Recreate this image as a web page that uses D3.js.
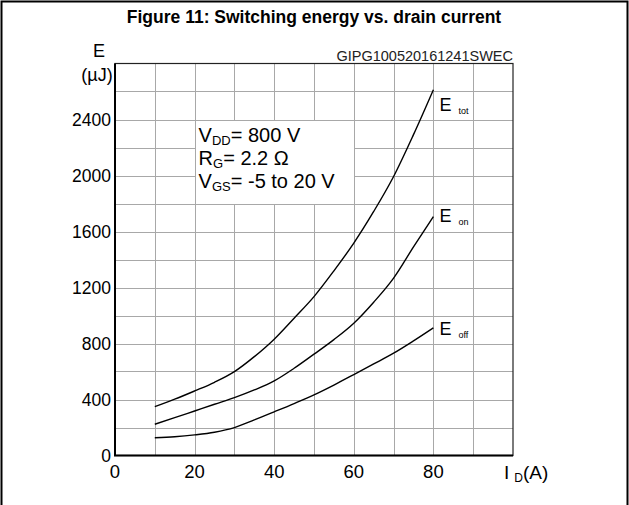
<!DOCTYPE html>
<html>
<head>
<meta charset="utf-8">
<script src="https://cdn.jsdelivr.net/npm/d3@7"></script>
<style>
  body { margin: 0; background: #fff; }
  svg { display: block; font-family: "Liberation Sans", Arial, sans-serif; }
</style>
</head>
<body>
<script>
// data
var current = [10, 15, 20, 25, 30, 35, 40, 45, 50, 55, 60, 65, 70, 75, 80];
var eTot = [349, 402, 461, 523, 599, 706, 831, 981, 1135, 1319, 1517, 1743, 1993, 2292, 2613];
var eOn  = [223, 270, 318, 366, 413, 468, 533, 623, 724, 828, 945, 1095, 1267, 1490, 1707];
var eOff = [127, 134, 147, 166, 199, 254, 312, 371, 433, 503, 578, 654, 731, 819, 912];
var xTicks = [0, 20, 40, 60, 80];
var yTicks = [0, 400, 800, 1200, 1600, 2000, 2400];
var seriesNames = ["tot", "on", "off"];

var width = 629,
    height = 505,
    plotLeft = 115, plotRight = 513, plotTop = 63.5, plotBottom = 455.5;

var x = d3.scaleLinear().domain([0, 100]).range([plotLeft, plotRight]),
    y = d3.scaleLinear().domain([0, 2800]).range([plotBottom, plotTop]);

var svg = d3.select("body").append("svg")
    .attr("width", width)
    .attr("height", height);

// outer frame
svg.append("path")
    .attr("d", "M1.5," + height + "V1.5H627.5V" + height)
    .attr("fill", "none")
    .attr("stroke", "#000")
    .attr("stroke-width", 2);

svg.append("text")
    .attr("x", 314).attr("y", 23)
    .attr("text-anchor", "middle")
    .attr("font-weight", "bold")
    .attr("font-size", 17.5)
    .text("Figure 11: Switching energy vs. drain current");

// grid
var grid = svg.append("g").attr("stroke", "#a8a8a8").attr("stroke-width", 1);
grid.selectAll("line.v")
    .data(d3.range(10, 100, 10))
    .enter().append("line")
    .attr("x1", function(d) { return Math.round(x(d)) + 0.5; })
    .attr("x2", function(d) { return Math.round(x(d)) + 0.5; })
    .attr("y1", plotTop).attr("y2", plotBottom);
grid.selectAll("line.h")
    .data(d3.range(200, 2800, 200))
    .enter().append("line")
    .attr("y1", function(d) { return Math.round(y(d)) + 0.5; })
    .attr("y2", function(d) { return Math.round(y(d)) + 0.5; })
    .attr("x1", plotLeft).attr("x2", plotRight);

// conditions box
svg.append("rect")
    .attr("x", Math.round(x(20)) + 0.5)
    .attr("y", Math.round(y(2400)) + 0.5)
    .attr("width", Math.round(x(60)) - Math.round(x(20)))
    .attr("height", Math.round(y(1800)) - Math.round(y(2400)))
    .attr("fill", "#fff")
    .attr("stroke", "#a8a8a8");

var cond = [["V", "DD", "= 800 V"], ["R", "G", "= 2.2 \u03A9"], ["V", "GS", "= -5 to 20 V"]];
cond.forEach(function(c, i) {
    var t = svg.append("text")
        .attr("x", x(20) + 4)
        .attr("y", 142 + i * 23)
        .attr("font-size", 20);
    t.append("tspan").text(c[0]);
    t.append("tspan").attr("font-size", 13).attr("dy", 3).text(c[1]);
    t.append("tspan").attr("dy", -3).text(c[2]);
});

// plot border
svg.append("rect")
    .attr("x", plotLeft).attr("y", plotTop)
    .attr("width", plotRight - plotLeft).attr("height", plotBottom - plotTop)
    .attr("fill", "none")
    .attr("stroke", "#222")
    .attr("stroke-width", 1.2);
svg.append("path")
    .attr("d", "M" + plotLeft + "," + plotTop + "V" + plotBottom + "H" + plotRight)
    .attr("fill", "none")
    .attr("stroke", "#000")
    .attr("stroke-width", 2);

// curves
var line = d3.line()
    .x(function(d) { return x(d[0]); })
    .y(function(d) { return y(d[1]); })
    .curve(d3.curveMonotoneX);

var labelShift = [21, 5, 7];
[eTot, eOn, eOff].forEach(function(s, i) {
    svg.append("path")
        .datum(current.map(function(c, j) { return [c, s[j]]; }))
        .attr("fill", "none")
        .attr("stroke", "#000")
        .attr("stroke-width", 1.4)
        .attr("d", line);

    var last = s[s.length - 1];
    var lbl = svg.append("text")
        .attr("x", x(80) + 6)
        .attr("y", y(last) + labelShift[i])
        .attr("font-size", 18);
    lbl.append("tspan").text("E");
    lbl.append("tspan").attr("font-size", 9).attr("dx", 7).attr("dy", 3).text(seriesNames[i]);
});

// tick labels
svg.selectAll("text.ytick")
    .data(yTicks)
    .enter().append("text")
    .attr("class", "ytick")
    .attr("x", 111)
    .attr("y", function(d) { return y(d) + 6; })
    .attr("text-anchor", "end")
    .attr("font-size", 17.5)
    .text(function(d) { return d; });

svg.selectAll("text.xtick")
    .data(xTicks)
    .enter().append("text")
    .attr("class", "xtick")
    .attr("x", function(d) { return x(d); })
    .attr("y", 478)
    .attr("text-anchor", "middle")
    .attr("font-size", 18.5)
    .text(function(d) { return d; });

// axis titles
svg.append("text")
    .attr("x", 99).attr("y", 57)
    .attr("text-anchor", "middle")
    .attr("font-size", 18)
    .text("E");
svg.append("text")
    .attr("x", 97).attr("y", 81)
    .attr("text-anchor", "middle")
    .attr("font-size", 18)
    .text("(\u00B5J)");

var xl = svg.append("text")
    .attr("x", 504).attr("y", 479)
    .attr("font-size", 19);
xl.append("tspan").text("I");
xl.append("tspan").attr("font-size", 12).attr("dx", 5).attr("dy", 3).text("D");
xl.append("tspan").attr("dy", -3).text("(A)");

svg.append("text")
    .attr("x", plotRight).attr("y", 61)
    .attr("text-anchor", "end")
    .attr("font-size", 14.5)
    .attr("fill", "#222")
    .text("GIPG100520161241SWEC");
</script>
</body>
</html>
